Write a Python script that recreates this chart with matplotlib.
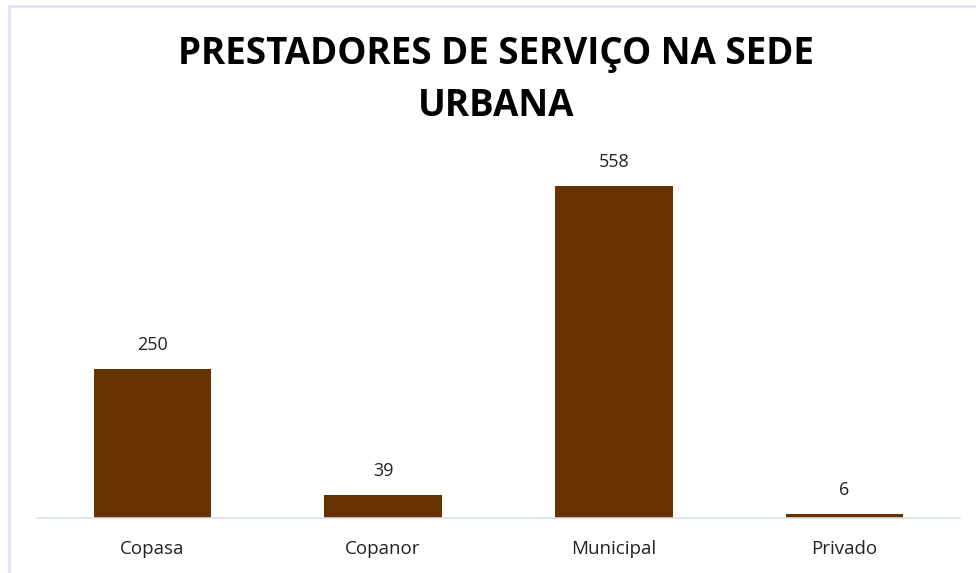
import matplotlib
matplotlib.use("Agg")
import matplotlib.pyplot as plt
from matplotlib.patches import Rectangle

categories = ["Copasa", "Copanor", "Municipal", "Privado"]
values = [250, 39, 558, 6]
title = "PRESTADORES DE SERVIÇO NA SEDE\nURBANA"

W, H = 976, 573
fig = plt.figure(figsize=(W / 100, H / 100), dpi=100)
plt.rcParams['font.family'] = ['Open Sans', 'DejaVu Sans']

# figure border
fig.patches.append(Rectangle((9 / W, -0.1), 1.2, 1 - 6 / H + 0.1, transform=fig.transFigure,
                             fill=False, edgecolor="#d6e1f3", linewidth=1.8))

ax_left, ax_right = 37, 960
ax_bottom, ax_top = 518, 160
ax = fig.add_axes([ax_left / W, 1 - ax_bottom / H, (ax_right - ax_left) / W, (ax_bottom - ax_top) / H])
ymax = (ax_bottom - ax_top) / (518 - 186) * 558
ax.set_ylim(0, ymax)
ax.set_xlim(-0.5, len(categories) - 0.5)

x = range(len(categories))
bars = ax.bar(x, values, width=0.51, color="#663300")
for xi, v in zip(x, values):
    ax.annotate(str(v), (xi, v), xytext=(0, 11), textcoords="offset points",
                ha="center", va="bottom", fontsize=13, color="#222222")

for s in ["top", "right", "left"]:
    ax.spines[s].set_visible(False)
ax.spines["bottom"].set_color("#d6e1f0")
ax.spines["bottom"].set_linewidth(1.2)
ax.set_yticks([])
ax.set_xticks(list(x))
ax.set_xticklabels(categories, fontsize=13.5, color="#222222")
ax.tick_params(axis="x", length=0, pad=16)

fig.text(0.508, 1 - 80 / H, title, ha="center", va="center", fontsize=26.5,
         fontweight="bold", linespacing=1.45, color="black")

fig.savefig("out.png", dpi=100)
